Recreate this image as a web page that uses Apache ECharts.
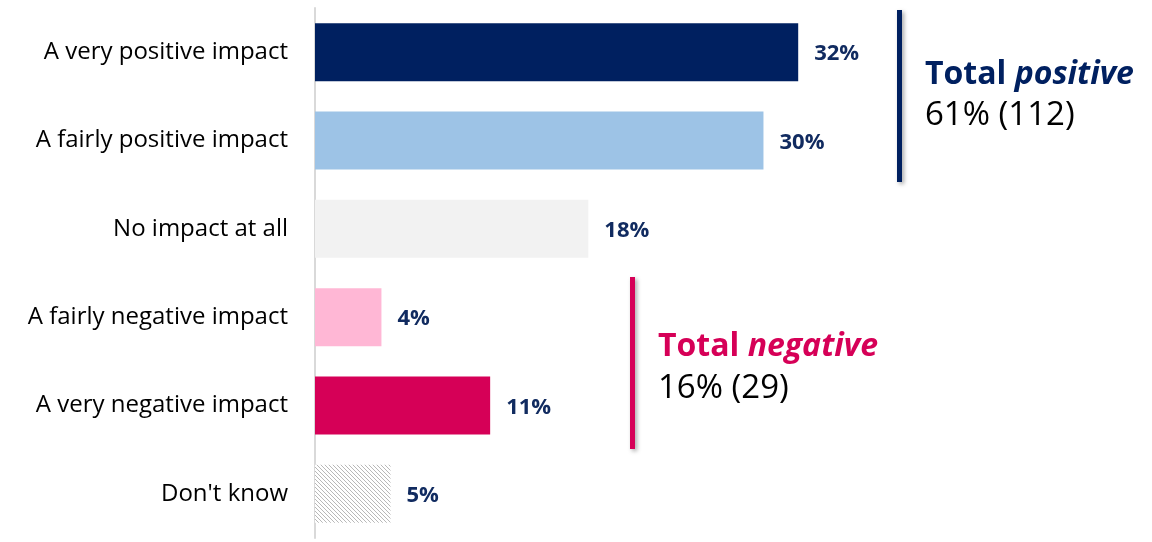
<!DOCTYPE html>
<html>
<head>
<meta charset="utf-8">
<script src="https://cdn.jsdelivr.net/npm/echarts@6/dist/echarts.min.js"></script>
<style>
html,body{margin:0;padding:0;background:#fff;}
#chart{width:1152px;height:542px;}
</style>
</head>
<body>
<div id="chart"></div>
<script>
const categories = ['A very positive impact','A fairly positive impact','No impact at all','A fairly negative impact','A very negative impact',"Don't know"];
const values = [32.0, 29.7, 18.1, 4.4, 11.6, 5.0];
const valueLabels = ['32%','30%','18%','4%','11%','5%'];
const barColors = ['#002060','#9DC3E6','#F2F2F2','#FFB7D5','#D60057','hatch'];
const totalPositive = {title:'Total ', em:'positive', value:'61% (112)'};
const totalNegative = {title:'Total ', em:'negative', value:'16% (29)'};

function hatchPattern(){
  const c = document.createElement('canvas');
  c.width = 8; c.height = 8;
  const ctx = c.getContext('2d');
  ctx.fillStyle = '#ffffff';
  ctx.fillRect(0,0,8,8);
  ctx.fillStyle = '#B8B8B8';
  for(let i=0;i<8;i++){
    ctx.fillRect(i,i,1,1);
    ctx.fillRect((i+4)%8,i,1,1);
  }
  return c;
}
const pat = {image: hatchPattern(), repeat:'repeat'};

const chart = echarts.init(document.getElementById('chart'), null, {renderer:'canvas'});
const FONT = '"Open Sans", Lato, sans-serif';
chart.setOption({
  animation:false,
  grid:{left:315, right:82, top:8, bottom:4, containLabel:false},
  xAxis:{type:'value', min:0, max:50, show:false},
  yAxis:{type:'category', data:categories, inverse:true,
    axisLine:{show:true, lineStyle:{color:'#D9D9D9', width:2}},
    axisTick:{show:false},
    axisLabel:{color:'#000', fontSize:24, fontFamily:FONT, margin:27, padding:[4,0,0,0]}
  },
  series:[{
    type:'bar', barWidth:58,
    data: values.map((v,i)=>({value:v, itemStyle:{color: barColors[i]==='hatch'? pat : barColors[i]}})),
    label:{show:true, position:'right', distance:16, offset:[0,2],
      formatter:p=>valueLabels[p.dataIndex],
      color:'#112B60', fontWeight:'bold', fontSize:22, fontFamily:FONT}
  }],
  graphic:[
    {type:'rect', shape:{x:897,y:10,width:5,height:172}, style:{fill:'#002060', shadowBlur:4, shadowColor:'rgba(0,0,0,0.35)', shadowOffsetX:2, shadowOffsetY:2}},
    {type:'text', x:925, y:75, style:{rich:{b:{fontWeight:'bold',fontSize:32,fill:'#002060',fontFamily:FONT}, bi:{fontWeight:'bold',fontStyle:'italic',fontSize:32,fill:'#002060',fontFamily:FONT}}, text:'{b|'+totalPositive.title+'}{bi|'+totalPositive.em+'}', verticalAlign:'middle'}},
    {type:'text', x:925, y:116, style:{text:totalPositive.value, fontSize:33, fill:'#000', fontFamily:FONT, verticalAlign:'middle'}},
    {type:'rect', shape:{x:630,y:277,width:5,height:172}, style:{fill:'#D60057', shadowBlur:4, shadowColor:'rgba(0,0,0,0.35)', shadowOffsetX:2, shadowOffsetY:2}},
    {type:'text', x:658, y:347, style:{rich:{b:{fontWeight:'bold',fontSize:32,fill:'#D60057',fontFamily:FONT}, bi:{fontWeight:'bold',fontStyle:'italic',fontSize:32,fill:'#D60057',fontFamily:FONT}}, text:'{b|'+totalNegative.title+'}{bi|'+totalNegative.em+'}', verticalAlign:'middle'}},
    {type:'text', x:658, y:389, style:{text:totalNegative.value, fontSize:33, fill:'#000', fontFamily:FONT, verticalAlign:'middle'}}
  ]
});
</script>
</body>
</html>
